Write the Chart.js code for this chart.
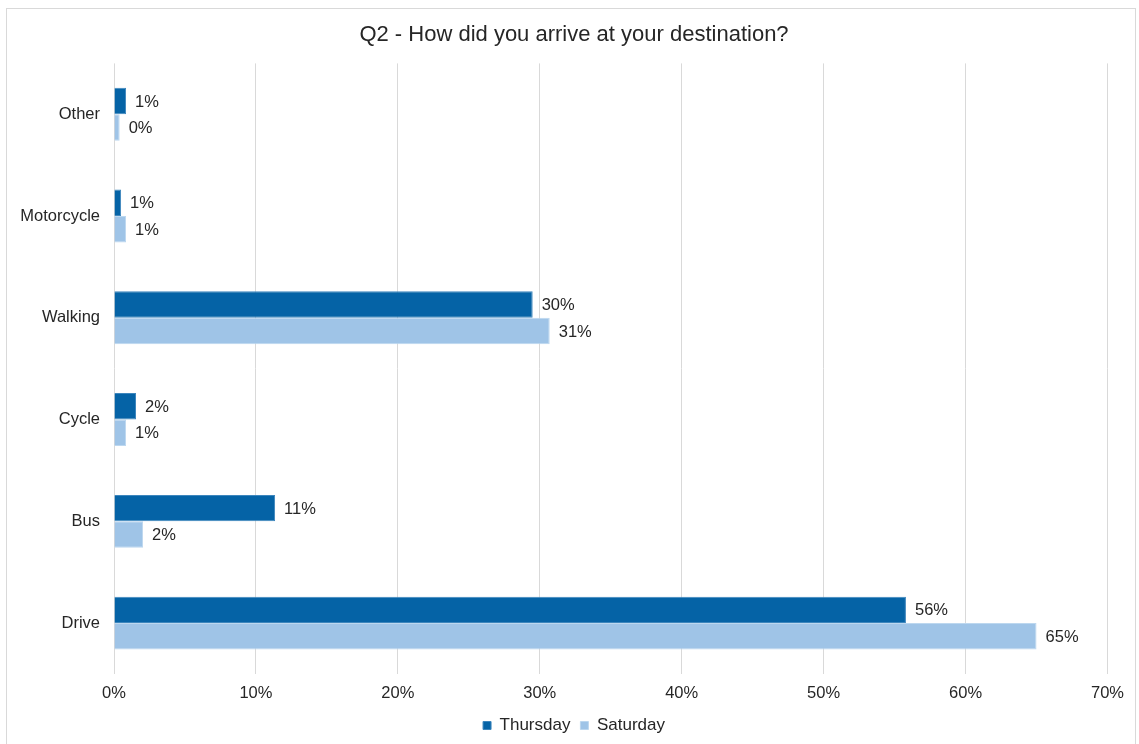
<!DOCTYPE html>
<html>
<head>
<meta charset="utf-8">
<script src="https://cdn.jsdelivr.net/npm/chart.js@4"></script>
<style>
  body { margin: 0; background: #fff; }
  .frame { position: absolute; left: 6px; top: 8px; width: 1130px; height: 745px; border: 1px solid #d9d9d9; box-sizing: border-box; }
  canvas { display: block; }
</style>
</head>
<body>
<div class="frame"><canvas id="chart" width="1127" height="743"></canvas></div>
<script>
// Chart data
const categories = ["Other", "Motorcycle", "Walking", "Cycle", "Bus", "Drive"];
const thursday = [0.85, 0.5, 29.5, 1.55, 11.35, 55.8];
const saturday = [0.4, 0.85, 30.7, 0.85, 2.05, 65.0];
const xTicks = [0, 10, 20, 30, 40, 50, 60, 70];

const font = "'Liberation Sans', Arial, sans-serif";

// Value labels at the end of each bar
const barLabels = {
    id: "barLabels",
    afterDatasetsDraw(chart) {
        const ctx = chart.ctx;
        ctx.save();
        ctx.font = "16.5px " + font;
        ctx.fillStyle = "#262626";
        ctx.textBaseline = "middle";
        chart.data.datasets.forEach((ds, i) => {
            chart.getDatasetMeta(i).data.forEach((bar, j) => {
                ctx.fillText(Math.round(ds.data[j]) + "%", bar.x + 9, bar.y + 1);
            });
        });
        ctx.restore();
    }
};

new Chart(document.getElementById("chart"), {
    type: "bar",
    data: {
        labels: categories,
        datasets: [
            { label: "Thursday", data: thursday, backgroundColor: "#0563a6", borderColor: "#3d86bd", borderWidth: 1, categoryPercentage: 0.52, barPercentage: 1 },
            { label: "Saturday", data: saturday, backgroundColor: "#9fc4e7", borderColor: "#bcd7ef", borderWidth: 1, categoryPercentage: 0.52, barPercentage: 1 }
        ]
    },
    options: {
        indexAxis: "y",
        responsive: false,
        animation: false,
        layout: { padding: { left: 7, right: 0, top: 0, bottom: 8 } },
        plugins: {
            title: {
                display: true,
                text: "Q2 - How did you arrive at your destination?",
                color: "#262626",
                font: { family: font, size: 22, weight: "normal" },
                padding: { top: 13, bottom: 15 }
            },
            legend: {
                position: "bottom",
                labels: {
                    color: "#262626",
                    font: { family: font, size: 17 },
                    boxWidth: 8,
                    boxHeight: 8,
                    padding: 10
                }
            },
            tooltip: { enabled: false }
        },
        scales: {
            x: {
                min: 0,
                max: 70,
                afterBuildTicks: (scale) => { scale.ticks = xTicks.map(v => ({ value: v })); },
                afterFit: (scale) => { scale.height = 33; },
                ticks: {
                    callback: (v) => v + "%",
                    color: "#262626",
                    font: { family: font, size: 16.5 },
                    padding: 10
                },
                grid: { color: "#d9d9d9", drawTicks: false },
                border: { display: false }
            },
            y: {
                afterFit: (scale) => { scale.width = 100; },
                ticks: {
                    color: "#262626",
                    font: { family: font, size: 16.5 },
                    padding: 6
                },
                grid: { display: false },
                border: { display: false }
            }
        }
    },
    plugins: [barLabels]
});
</script>
</body>
</html>
